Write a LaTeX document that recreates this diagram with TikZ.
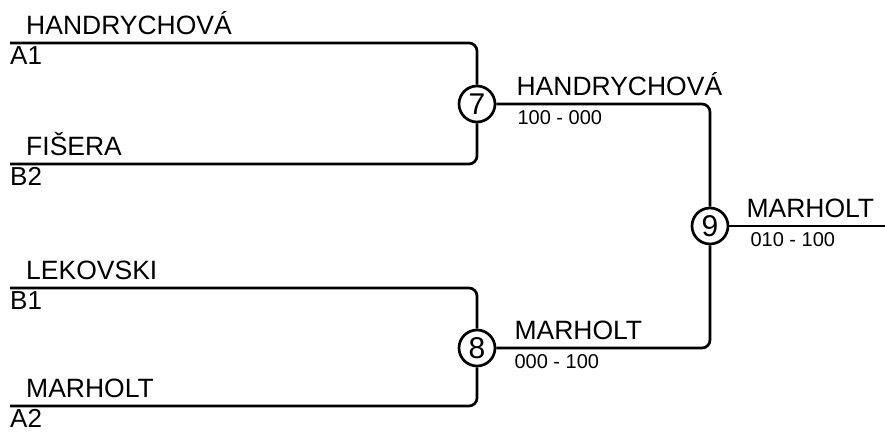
\documentclass[tikz,border=0pt]{standalone}
\usepackage{fontspec}
\setmainfont{Liberation Sans}
\usetikzlibrary{positioning}

\begin{document}
\begin{tikzpicture} [
    x=1pt, y=-1pt,
    match/.style    = { circle, draw, line width=2.7pt, minimum size=36pt,
                        inner sep=0pt, font=\fontsize{30}{30}\selectfont },
    player/.style   = { inner sep=0pt, anchor=base west,
                        font=\fontsize{26.5}{26.5}\selectfont },
    seed/.style     = { inner sep=0pt, anchor=north west,
                        font=\fontsize{26}{26}\selectfont },
    score/.style    = { inner sep=0pt, anchor=north west,
                        font=\fontsize{20}{20}\selectfont },
    line/.style     = { draw, line width=2.7pt, rounded corners=8pt },
  ]
  \useasboundingbox (0,0) rectangle (885,432);

  % Define nodes
  \node[match] (m7) at (477,104) {7};
  \node[match] (m8) at (477,348) {8};
  \node[match] (m9) at (710,226) {9};

  \coordinate (a1) at (10,43);
  \coordinate (b2) at (10,164);
  \coordinate (b1) at (10,288);
  \coordinate (a2) at (10,406);
  \coordinate (out) at (885,226);

  \node[player] (pa1) at ([xshift=16pt, yshift=9pt]a1) {HANDRYCHOVÁ};
  \node[seed]   (sa1) at ([yshift=-3pt]a1) {A1};
  \node[player] (pb2) at ([xshift=16pt, yshift=9pt]b2) {FIŠERA};
  \node[seed]   (sb2) at ([yshift=-3pt]b2) {B2};
  \node[player] (pb1) at ([xshift=16pt, yshift=9pt]b1) {LEKOVSKI};
  \node[seed]   (sb1) at ([yshift=-3pt]b1) {B1};
  \node[player] (pa2) at ([xshift=16pt, yshift=9pt]a2) {MARHOLT};
  \node[seed]   (sa2) at ([yshift=-3pt]a2) {A2};

  \node[player] (w7) at ([xshift=20pt, yshift=9pt]m7.east) {HANDRYCHOVÁ};
  \node[score]  (r7) at ([xshift=21pt, yshift=-6pt]m7.east) {100 - 000};
  \node[player] (w8) at ([xshift=18pt, yshift=9pt]m8.east) {MARHOLT};
  \node[score]  (r8) at ([xshift=18pt, yshift=-6pt]m8.east) {000 - 100};
  \node[player] (w9) at ([xshift=17pt, yshift=9pt]m9.east) {MARHOLT};
  \node[score]  (r9) at ([xshift=21pt, yshift=-6pt]m9.east) {010 - 100};

  % connect the nodes
  \path [line] (a1) -| (m7);
  \path [line] (b2) -| (m7);
  \path [line] (b1) -| (m8);
  \path [line] (a2) -| (m8);
  \path [line] (m7) -| (m9);
  \path [line] (m8) -| (m9);
  \path [line] (m9) -- (out);
\end{tikzpicture}
\end{document}
